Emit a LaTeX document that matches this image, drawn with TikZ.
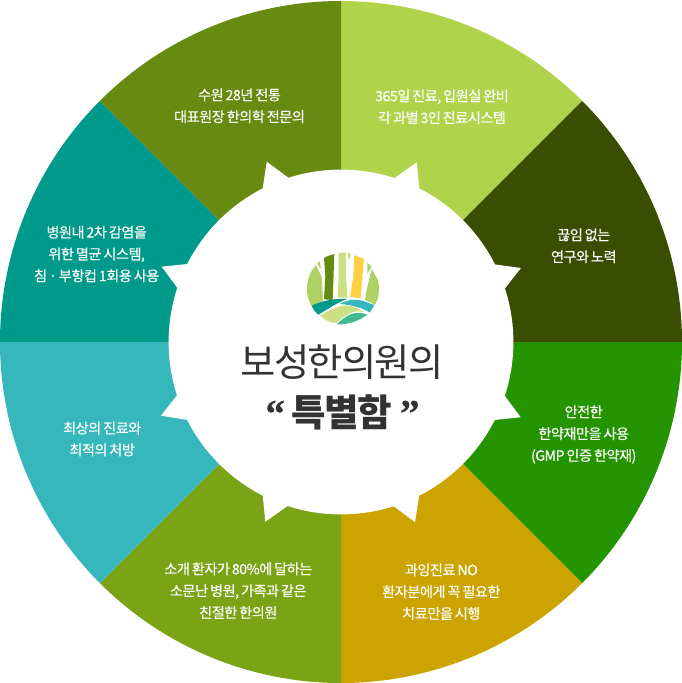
\documentclass[tikz,border=0pt]{standalone}
\usepackage{fontspec}
\newfontfamily\cjk[LetterSpace=-3.6,WordSpace=0.7,FakeBold=0.25]{Noto Sans CJK KR}
\newfontfamily\cjkh[LetterSpace=-4.7]{Noto Sans CJK KR}
\newfontfamily\cjkb[LetterSpace=-4]{Noto Sans CJK KR}
\newfontfamily\qt[FakeBold=0.6]{Liberation Serif}
\definecolor{c1}{HTML}{AFD44C}
\definecolor{c2}{HTML}{3B4D00}
\definecolor{c3}{HTML}{249400}
\definecolor{c4}{HTML}{CBA400}
\definecolor{c5}{HTML}{7BA316}
\definecolor{c6}{HTML}{36B7BC}
\definecolor{c7}{HTML}{009A8A}
\definecolor{c8}{HTML}{678A10}
\definecolor{pale}{HTML}{CBDF83}
\definecolor{leaf}{HTML}{AED265}
\definecolor{sun}{HTML}{FFD040}
\definecolor{hill}{HTML}{44BA90}
\definecolor{ink}{HTML}{333333}
\tikzset{
lbl/.style = {text = white, align = center, inner sep = 0pt, font = \cjk\fontsize{14.2}{21.8}\selectfont},
head/.style = {text = ink, align = center, inner sep = 0pt}
}
\newcommand{\qtm}[1]{{\qt\bfseries\fontsize{39}{40}\selectfont #1}}
\begin{document}
\begin{tikzpicture} [x = 1pt, y = -1pt]
\useasboundingbox (0,0) rectangle (682,683);
\fill [white] (0,0) rectangle (682,683);
\coordinate (c) at (341,342);
\fill [c1] (c) -- +(270:341) arc (270:315:341) -- cycle;
\fill [c2] (c) -- +(315:341) arc (315:360:341) -- cycle;
\fill [c3] (c) -- +(0:341) arc (0:45:341) -- cycle;
\fill [c4] (c) -- +(45:341) arc (45:90:341) -- cycle;
\fill [c5] (c) -- +(90:341) arc (90:135:341) -- cycle;
\fill [c6] (c) -- +(135:341) arc (135:180:341) -- cycle;
\fill [c7] (c) -- +(180:341) arc (180:225:341) -- cycle;
\fill [c8] (c) -- +(225:341) arc (225:270:341) -- cycle;
\fill [white] (c) circle (172.4);
\fill [white] (288.3,177.7) -- (266.7,161.7) -- (262.7,188.3) -- (c) -- cycle;
\fill [white] (395,177.7) -- (416.7,162.3) -- (419.3,188.3) -- (c) -- cycle;
\fill [white] (494,264.3) -- (521,268) -- (505,288.3) -- (c) -- cycle;
\fill [white] (505,396) -- (520.7,417.3) -- (494,420) -- (c) -- cycle;
\fill [white] (419.3,495) -- (415,522) -- (393.3,506) -- (c) -- cycle;
\fill [white] (262.7,495) -- (265.3,521.7) -- (287.7,506) -- (c) -- cycle;
\fill [white] (176.7,395.7) -- (161,415.7) -- (187.7,420) -- (c) -- cycle;
\fill [white] (187.7,264) -- (161.7,266.7) -- (177.3,287.7) -- (c) -- cycle;
\begin{scope} [shift = {(150,150)}, x = .3333pt, y = -.3333pt]
\clip (579,416) circle (108);
\fill [leaf] (497,345) -- (515,380) -- (519,452) -- (480,470) -- (460,420) -- (470,370) -- cycle;
\fill [leaf] (497,335) -- (510,335) -- (513,357) -- cycle;
\fill [c8] (522,322) -- (553,312) -- (550,400) -- (548,450) -- (522,448) -- (526,380) -- cycle;
\fill [pale] (566,305) -- (588,305) -- (588,380) -- (592,443) -- (563,443) -- (566,380) -- cycle;
\fill [pale] (592,305) -- (604,305) -- (597,333) -- cycle;
\fill [sun] (613,315) -- (642,327) -- (632,445) -- (600,440) -- (610,380) -- cycle;
\fill [leaf] (665,357) -- (690,400) -- (690,470) -- (645,450) -- (650,420) -- cycle;
\fill [leaf] (652,337) -- (665,350) -- (652,372) -- cycle;
\fill [c7] (485,467) .. controls (520,450) and (560,445) .. (592,447) .. controls (560,458) and (530,480) .. (505,494) -- (497,490) -- cycle;
\fill [c6] (570,462) .. controls (590,450) and (610,445) .. (640,453) -- (673,465) -- (660,488) .. controls (640,475) and (610,465) .. (570,462) -- cycle;
\fill [pale] (510,497) .. controls (540,480) and (570,462) .. (600,468) .. controls (615,470) and (630,478) .. (640,486) .. controls (610,478) and (585,495) .. (557,520) .. controls (540,518) and (525,510) .. (510,497) -- cycle;
\fill [hill] (560,523) .. controls (585,500) and (610,478) .. (652,494) .. controls (630,510) and (600,525) .. (560,523) -- cycle;
\end{scope}
\node [lbl] (t1) at (442,106.8) {365일 진료, 입원실 완비\\각 과별 3인 진료시스템};
\node [lbl] (t2) at (583.8,245.8) {끊임 없는\\연구와 노력};
\node [lbl] (t3) at (583.7,434.5) {안전한\\한약재만을 사용\\(GMP 인증 한약재)};
\node [lbl] (t4) at (441.3,591.7) {과잉진료 NO\\환자분에게 꼭 필요한\\치료만을 시행};
\node [lbl] (t5) at (238.3,590.7) {소개 환자가 80\%에 달하는\\소문난 병원, 가족과 같은\\친절한 한의원};
\node [lbl] (t6) at (102.2,439) {최상의 진료와\\최적의 처방};
\node [lbl] (t7) at (96.7,254) {병원내 2차 감염을\\위한 멸균 시스템,\\침 · 부항컵 1회용 사용};
\node [lbl] (t8) at (239.5,105.8) {수원 28년 전통\\대표원장 한의학 전문의};
\node [head, font = \cjkh\fontsize{38.4}{42}\selectfont] (h1) at (342,362.5) {보성한의원의};
\node [head, font = \cjkb\bfseries\fontsize{37.5}{40}\selectfont] (h2) at (342.5,412.5) {\qtm{“}\kern6.5pt 특별함\kern8pt\qtm{”}};
\end{tikzpicture}
\end{document}
